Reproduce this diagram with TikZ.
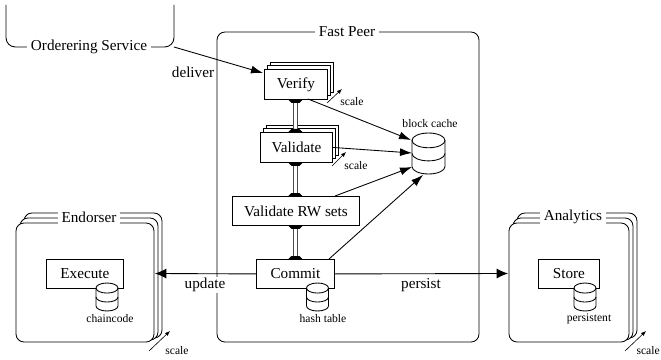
\documentclass[tikz,border=0pt]{standalone}
\usepackage{fontspec}
\setmainfont{Liberation Serif}
\usetikzlibrary{arrows.meta,calc}
\newcommand{\mainsz}{\fontsize{11.4}{13}\selectfont}
\tikzset{
  x=0.75pt,y=-0.75pt,
  boxstyle/.style={draw=black,fill=white,line width=0.65pt,inner sep=0pt,anchor=north west,font=\mainsz},
  title/.style={fill=white,inner sep=3pt,font=\mainsz},
  lab/.style={fill=white,inner sep=1pt,font=\mainsz},
  small/.style={inner sep=0pt,font=\fontsize{8.7}{10}\selectfont},
  arr/.style={-{Latex[length=9pt,width=6pt]},line width=0.65pt},
  bigarr/.style={-{Latex[length=8.5pt,width=7.5pt]},line width=0.65pt},
  scalearr/.style={-{Latex[length=3.8pt,width=3pt]},line width=0.45pt},
  pipe/.style={double=white,double distance=2.6pt,draw=black!70,line width=0.7pt},
  frame/.style={draw=black,fill=white,line width=0.65pt,rounded corners=6pt}
}
\newcommand{\dbicon}[4]{% cx, top y, half-width, height
  \begin{scope}[line width=0.65pt]
    \pgfmathsetmacro{\ry}{#4*0.18}
    \pgfmathsetmacro{\bandh}{(#4-2*\ry)/2}
    \pgfmathsetmacro{\ya}{#2+\ry}
    \pgfmathsetmacro{\yb}{\ya+\bandh}
    \pgfmathsetmacro{\yc}{\yb+\bandh}
    \fill[white] (#1-#3,\ya) -- (#1-#3,\yc) arc[start angle=180,end angle=360,x radius=#3,y radius=-\ry] -- (#1+#3,\ya) arc[start angle=0,end angle=180,x radius=#3,y radius=-\ry] -- cycle;
    \draw (#1,\ya) ellipse[x radius=#3,y radius=\ry];
    \draw (#1-#3,\ya) -- (#1-#3,\yc) arc[start angle=180,end angle=360,x radius=#3,y radius=-\ry] -- (#1+#3,\ya);
    \draw (#1-#3,\yb) arc[start angle=180,end angle=360,x radius=#3,y radius=-\ry];
  \end{scope}
}
\begin{document}
\begin{tikzpicture}
\useasboundingbox (0,0) rectangle (661,360);
% orderer
\draw[line width=0.65pt,rounded corners=7pt] (6,5) -- (6,47) -- (174,47) -- (174,5);
\node[title] (ord) at (89,47) {Orderering Service};
% fast peer
\draw[frame] (217,32) rectangle (479,342);
\node[title] (fp) at (347,32) {Fast Peer};
% endorser stack
\foreach \d in {8,4,0}{
  \draw[frame] (16+\d,223-\d*1.25) rectangle (154+\d,342-\d*0.5);
}
\node[title] (end) at (89,217) {Endorser};
\node[boxstyle,minimum width=77*0.75pt,minimum height=29*0.75pt] (exec) at (46,259) {Execute};
% analytics stack
\foreach \d in {8,4,0}{
  \draw[frame] (509+\d,223-\d*1.25) rectangle (629+\d,342-\d*0.5);
}
\node[title] (ana) at (573,217) {Analytics};
\node[boxstyle,minimum width=61*0.75pt,minimum height=29*0.75pt] (store) at (538,259) {Store};
% process boxes
\foreach \d in {6.7,3.3}{
  \draw[boxstyle] (264+\d,69-\d) rectangle (327+\d,99-\d);
  \draw[boxstyle] (260+\d,132-\d) rectangle (332+\d,162-\d);
}
\node[boxstyle,minimum width=63*0.75pt,minimum height=30*0.75pt] (ver) at (264,69) {Verify};
\node[boxstyle,minimum width=72*0.75pt,minimum height=30*0.75pt] (val) at (260,132) {Validate};
\node[boxstyle,minimum width=127*0.75pt,minimum height=29*0.75pt] (rw) at (232,196) {Validate RW sets};
\node[boxstyle,minimum width=78*0.75pt,minimum height=29*0.75pt] (com) at (256,259) {Commit};
% pipes
\foreach \a/\b in {ver/val,val/rw,rw/com}{
  \draw[pipe] (\a.south -| com.center) -- (\b.north -| com.center);
  \fill[black] ($(\a.south -| com.center)+(-7,0)$) -- ++(14,0) -- ++(-3,3) -- ++(-8,0) -- cycle;
  \fill[black] ($(\b.north -| com.center)+(-7,0)$) -- ++(14,0) -- ++(-3,-3) -- ++(-8,0) -- cycle;
}
% block cache
\dbicon{428.5}{133}{16.5}{41}
\coordinate (dbv) at (411,140);
\coordinate (dbw) at (412,153);
\coordinate (dbr) at (412,167);
\coordinate (dbc) at (423,175);
\coordinate (vers) at (308,99);
\coordinate (rwn) at (335,196);
\coordinate (comn) at (329,259);
\node[small] (bc) at (430,124) {block cache};
\draw[arr] (vers) -- (dbv);
\draw[arr] (val.east) -- (dbw);
\draw[arr] (rwn) -- (dbr);
\draw[arr] (comn) -- (dbc);
% deliver
\node[lab] (del) at (193,72) {deliver};
\coordinate (ordc) at (174,47);
\coordinate (vert) at (263,73);
\draw[arr] (ordc) -- (vert);
% update/persist
\node[lab] (upd) at (205,285) {update};
\node[lab] (per) at (421,285) {persist};
\coordinate (endt) at (155,273.5);
\coordinate (anat) at (508,273.5);
\draw[bigarr] (com.west) -- (endt);
\draw[bigarr] (com.east) -- (anat);
% small dbs
\dbicon{317.5}{283}{11}{28}
\node[small] (ht) at (323,319) {hash table};
\dbicon{107}{283}{11}{28}
\node[small] (cc) at (110,319) {chaincode};
\dbicon{585}{283}{11}{28}
\node[small] (ps) at (589,319) {persistent};
% scale
\coordinate (s1a) at (327,103); \coordinate (s1b) at (342,89);
\coordinate (s2a) at (332,166); \coordinate (s2b) at (346,152);
\coordinate (s3a) at (149,351); \coordinate (s3b) at (170,331);
\coordinate (s4a) at (625,351); \coordinate (s4b) at (646,331);
\draw[scalearr] (s1a) -- (s1b);
\draw[scalearr] (s2a) -- (s2b);
\draw[scalearr] (s3a) -- (s3b);
\draw[scalearr] (s4a) -- (s4b);
\node[small] (l1) at (352,102) {scale};
\node[small] (l2) at (356,166) {scale};
\node[small] (l3) at (177,351) {scale};
\node[small,anchor=east] (l4) at (660,351) {scale};
\end{tikzpicture}
\end{document}
